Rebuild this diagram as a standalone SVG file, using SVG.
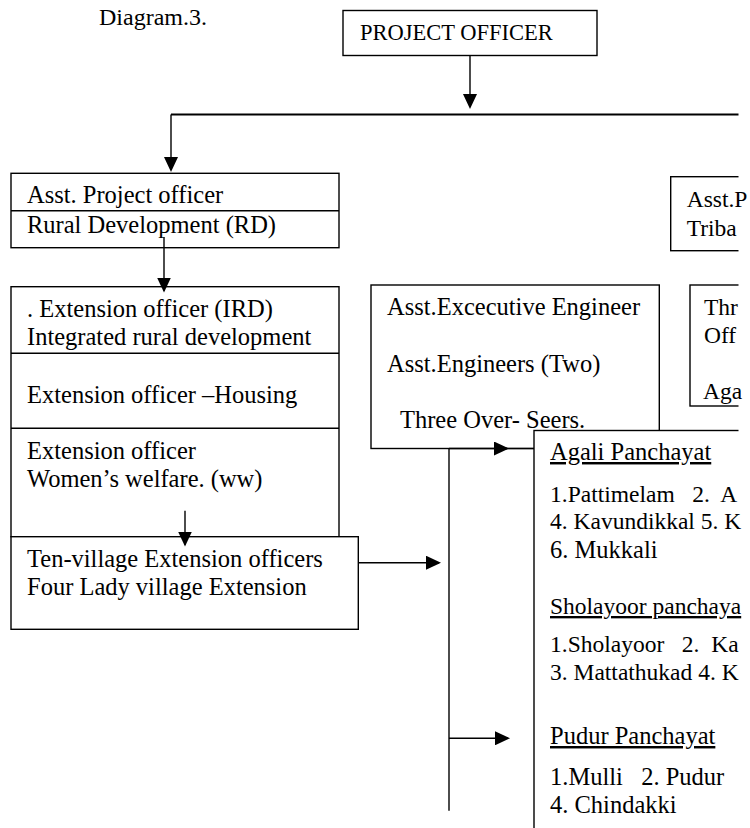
<svg xmlns="http://www.w3.org/2000/svg" width="750" height="828" viewBox="0 0 750 828">
<style>
  text { font-family: "Liberation Serif", "Times New Roman", serif; font-size: 24.5px; fill: #000; }
  .box { fill: #fff; stroke: #000; stroke-width: 1.4; }
  .div { stroke: #000; stroke-width: 1.4; }
  .con { fill: none; stroke: #000; stroke-width: 1.4; }
  .u { text-decoration: underline; }
  .cut { clip-path: url(#page); }
</style>
<defs>
  <marker id="ah" markerUnits="userSpaceOnUse" markerWidth="16" markerHeight="14" refX="13" refY="7" orient="auto">
    <path d="M0,0 L15,7 L0,14 z" fill="#000"/>
  </marker>
  <clipPath id="page"><rect x="0" y="0" width="738.5" height="828"/></clipPath>
</defs>
<rect x="0" y="0" width="750" height="828" fill="#fff"/>

<text id="title" x="99" y="25" style="font-size:24px">Diagram.3.</text>

<g id="project-officer">
  <rect class="box" x="343" y="10.5" width="254" height="45"/>
  <text x="360" y="40" style="font-size:22.5px">PROJECT OFFICER</text>
</g>

<g id="apo-rd">
  <rect class="box" x="11" y="173.3" width="328" height="74.4"/>
  <line class="div" x1="11" y1="210.7" x2="339" y2="210.7"/>
  <text x="27" y="202.7">Asst. Project officer</text>
  <text x="27" y="233">Rural Development (RD)</text>
</g>

<g id="extension-officers">
  <rect class="box" x="11" y="286.7" width="328" height="250"/>
  <line class="div" x1="11" y1="353.3" x2="339" y2="353.3"/>
  <line class="div" x1="11" y1="428.3" x2="339" y2="428.3"/>
  <text x="27" y="317.3">. Extension officer (IRD)</text>
  <text x="27" y="345">Integrated rural development</text>
  <text x="27" y="402.7">Extension officer –Housing</text>
  <text x="27" y="459">Extension officer</text>
  <text x="27" y="487.3">Women’s welfare. (ww)</text>
</g>

<g id="village-officers">
  <rect class="box" x="11" y="536.7" width="347.3" height="92.6"/>
  <text x="27" y="567.3">Ten-village Extension officers</text>
  <text x="27" y="595">Four Lady village Extension</text>
</g>

<g id="apo-tribal">
  <rect class="box cut" x="670.7" y="176.7" width="100" height="74"/>
  <text x="686.7" y="207" style="font-size:23.5px">Asst.P</text>
  <text x="686.7" y="235.5" style="font-size:23.5px">Triba</text>
</g>

<g id="engineers">
  <rect class="box" x="371" y="285" width="288.3" height="163.5"/>
  <text x="387" y="315">Asst.Excecutive Engineer</text>
  <text x="387" y="371.7">Asst.Engineers (Two)</text>
</g>

<g id="tribal-officers">
  <rect class="box cut" x="690" y="285" width="80" height="121"/>
  <text x="704" y="315" style="font-size:23.5px">Thr</text>
  <text x="704" y="343.3" style="font-size:23.5px">Off</text>
  <text x="703" y="399" style="font-size:23.5px">Aga</text>
</g>

<g id="panchayats">
  <rect class="box cut" x="534" y="430.5" width="240" height="420"/>
  <text class="u" x="550" y="460">Agali Panchayat</text>
  <text x="550" y="501.7" xml:space="preserve" style="font-size:23.5px">1.Pattimelam   2.  A</text>
  <text x="550" y="529.3" style="font-size:23.5px">4. Kavundikkal 5. K</text>
  <text x="550" y="558.3">6. Mukkali</text>
  <text class="u" x="550" y="614" style="font-size:23.5px">Sholayoor panchaya</text>
  <text x="550" y="651.7" xml:space="preserve" style="font-size:23.5px">1.Sholayoor   2.  Ka</text>
  <text x="550" y="680" style="font-size:23.5px">3. Mattathukad 4. K</text>
  <text class="u" x="550" y="744">Pudur Panchayat</text>
  <text x="550" y="785" xml:space="preserve">1.Mulli   2. Pudur</text>
  <text x="550" y="813.3">4. Chindakki</text>
</g>

<g id="engineers-label">
  <text x="400" y="428.3">Three Over- Seers.</text>
</g>

<g id="connectors">
  <line class="con" x1="470" y1="55.5" x2="470" y2="107"/>
  <line class="con cut" x1="171" y1="114.5" x2="760" y2="114.5" style="stroke-width:1.8"/>
  <line class="con" x1="171" y1="114.5" x2="171" y2="170"/>
  <line class="con" x1="164" y1="237" x2="164" y2="290.5"/>
  <line class="con" x1="185" y1="510.7" x2="185" y2="544.5"/>
  <line class="con" x1="358.3" y1="562.7" x2="439" y2="562.7"/>
  <line class="con" x1="449" y1="448.5" x2="449" y2="810.7"/>
  <line class="con" x1="449" y1="448.5" x2="507" y2="448.5"/>
  <line class="con" x1="507" y1="448.5" x2="534" y2="448.5"/>
  <line class="con" x1="449" y1="738.3" x2="508" y2="738.3"/>
  <line class="con" x1="470" y1="100" x2="470" y2="107" marker-end="url(#ah)"/>
  <line class="con" x1="171" y1="160" x2="171" y2="170" marker-end="url(#ah)"/>
  <line class="con" x1="164" y1="280" x2="164" y2="290.5" marker-end="url(#ah)"/>
  <line class="con" x1="185" y1="535" x2="185" y2="544.5" marker-end="url(#ah)"/>
  <line class="con" x1="430" y1="562.7" x2="439" y2="562.7" marker-end="url(#ah)"/>
  <line class="con" x1="495" y1="448.5" x2="507" y2="448.5" marker-end="url(#ah)"/>
  <line class="con" x1="495" y1="738.3" x2="508" y2="738.3" marker-end="url(#ah)"/>
</g>
</svg>
